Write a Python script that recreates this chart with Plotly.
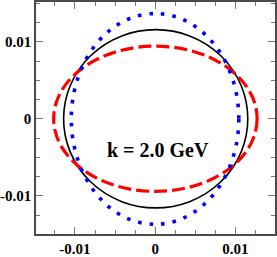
import plotly.graph_objects as go

# Data: semi-axes (x, y) of the three closed contours
curve_names = ["solid", "dashed", "dotted"]
semi_x = [0.01148, 0.01268, 0.01044]
semi_y = [0.01157, 0.00943, 0.01368]
center_x = [0.00006, 0.00002, -0.00002]
center_y = [0.0, 0.0, -0.00002]

tick_vals = [-0.01, 0, 0.01]
tick_text = ["-0.01", "0", "0.01"]
label_text = "k = 2.0 GeV"
label_pos = (0.0004, -0.0041)

styles = {
    "solid": dict(color="black", width=1.6, dash="solid"),
    "dashed": dict(color="#ff0000", width=3.2, dash="13px,5px"),
    "dotted": dict(color="#0000ff", width=3.6, dash="3.6px,8px"),
}

fig = go.Figure()
fig.add_trace(go.Scatter(x=[0], y=[0], mode="markers", marker=dict(opacity=0),
                         showlegend=False, hoverinfo="skip"))

for name, cx, cy, rx, ry in zip(curve_names, center_x, center_y, semi_x, semi_y):
    fig.add_shape(type="circle", xref="x", yref="y",
                  x0=cx - rx, x1=cx + rx, y0=cy - ry, y1=cy + ry,
                  line=styles[name])

fig.add_annotation(x=label_pos[0], y=label_pos[1], xref="x", yref="y",
                   text="<b>%s</b>" % label_text, showarrow=False,
                   font=dict(family="Liberation Serif", size=20, color="black"),
                   xanchor="center", yanchor="middle")

font_ticks = dict(family="Liberation Serif", size=15, color="black")
axis_common = dict(
    showline=True, linecolor="#4a4a4a", linewidth=1.5, mirror="ticks",
    ticks="inside", ticklen=7, tickwidth=1, tickcolor="#777777",
    tickvals=tick_vals, ticktext=["<b>%s</b>" % t for t in tick_text],
    tickfont=font_ticks, showgrid=False, zeroline=False,
    minor=dict(dtick=0.0025, ticks="inside", ticklen=4, tickwidth=1,
               tickcolor="#777777", showgrid=False),
)

fig.update_layout(
    width=277, height=257,
    margin=dict(l=35, r=1, t=0, b=16),
    paper_bgcolor="white", plot_bgcolor="white",
    showlegend=False,
    font=dict(family="Liberation Serif"),
    xaxis=dict(range=[-0.01486, 0.01493], **axis_common),
    yaxis=dict(range=[-0.01496, 0.01516], **axis_common),
)

fig.write_html("out.html", config={"displayModeBar": False},
               post_script="document.body.style.margin='0';document.body.style.padding='0';")
